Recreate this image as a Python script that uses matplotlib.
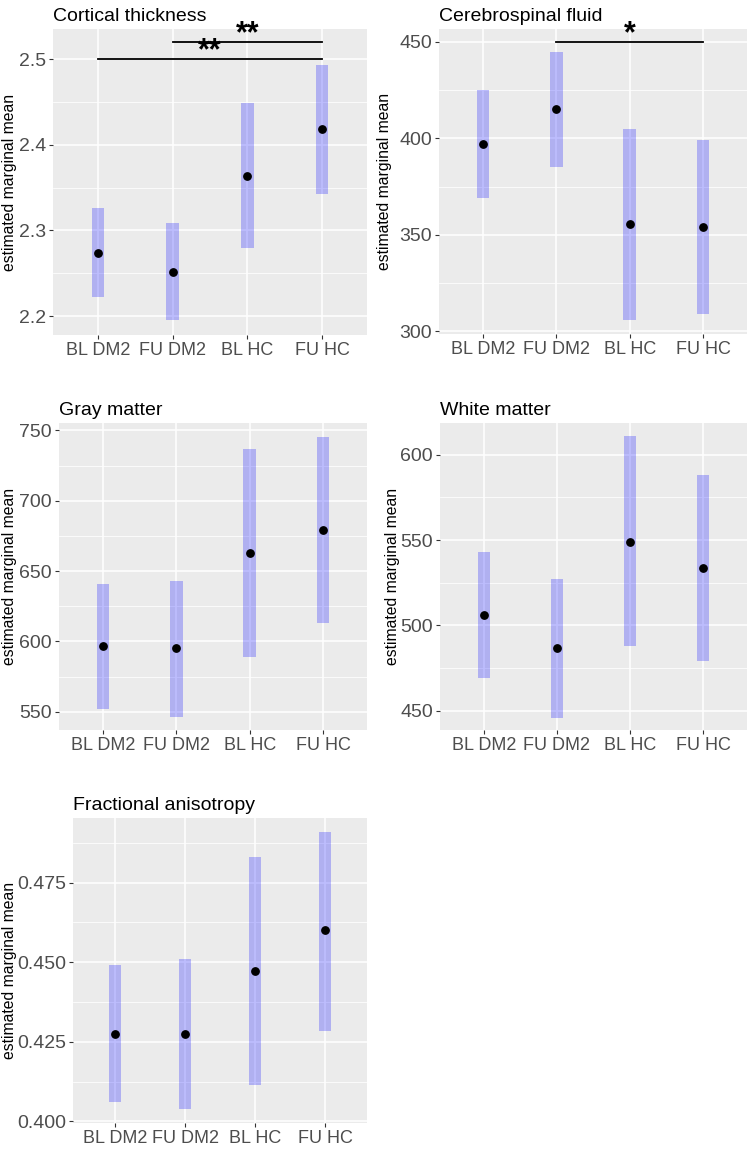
import numpy as np
import matplotlib
matplotlib.use("Agg")
import matplotlib.pyplot as plt
from matplotlib.ticker import MultipleLocator, FormatStrFormatter

plt.rcParams['font.family'] = ['Liberation Sans', 'DejaVu Sans']

groups = ["BL DM2", "FU DM2", "BL HC", "FU HC"]

# estimated marginal means and confidence limits
ct_mean = [2.274, 2.252, 2.364, 2.418]
ct_low = [2.222, 2.195, 2.279, 2.343]
ct_high = [2.326, 2.309, 2.449, 2.493]

csf_mean = [397, 415, 355.5, 354]
csf_low = [369, 385, 306, 309]
csf_high = [425, 445, 405, 399]

gm_mean = [597, 595, 663, 679]
gm_low = [552, 546, 589, 613]
gm_high = [641, 643, 737, 745]

wm_mean = [506, 486.5, 549, 533.5]
wm_low = [469, 446, 488, 479]
wm_high = [543, 527, 611, 588]

fa_mean = [0.4275, 0.4275, 0.4473, 0.4600]
fa_low = [0.406, 0.404, 0.4115, 0.4285]
fa_high = [0.449, 0.451, 0.483, 0.491]

# significance brackets: (from group, to group, y, label)
ct_sig = [(1, 4, 2.500, "**"), (2, 4, 2.520, "**")]
csf_sig = [(2, 4, 450, "*")]

W, H = 749, 1149
fig = plt.figure(figsize=(W / 100, H / 100), dpi=100)


def make_ax(left, top, right, bottom):
    return fig.add_axes([left / W, 1 - bottom / H, (right - left) / W, (bottom - top) / H])


def panel(ax, title, mean, low, high, ylim, major, label_x, sig=(), fmt=None):
    x = np.arange(1, len(groups) + 1)
    ax.set_facecolor("#EBEBEB")
    for s in ax.spines.values():
        s.set_visible(False)
    ax.set_xlim(0.4, 4.6)
    ax.set_ylim(*ylim)
    ax.yaxis.set_major_locator(MultipleLocator(major))
    ax.yaxis.set_minor_locator(MultipleLocator(major / 2))
    ax.grid(which="major", color="white", linewidth=1.1, zorder=0)
    ax.grid(which="minor", axis="y", color="white", linewidth=0.55, zorder=0)
    ax.set_axisbelow(True)
    ax.bar(x, np.array(high) - np.array(low), bottom=low, width=0.17,
           color="blue", alpha=0.25, linewidth=0, zorder=2)
    ax.plot(x, mean, "o", color="black", markersize=5.3, zorder=3)
    ax.set_xticks(x)
    ax.set_xticklabels(groups)
    ax.tick_params(axis="both", which="major", length=3, width=0.8, color="#333333",
                   labelcolor="#4D4D4D", pad=2)
    ax.tick_params(axis="x", labelsize=13)
    ax.tick_params(axis="y", labelsize=14)
    ax.tick_params(axis="y", which="minor", length=0)
    if fmt:
        ax.yaxis.set_major_formatter(fmt)
    ax.set_ylabel("estimated marginal mean", fontsize=11.3, va="center")
    # label centre in pixels, converted to axes fraction
    pos = ax.get_position()
    ax.yaxis.set_label_coords((label_x / W - pos.x0) / pos.width, 0.5)
    ax.set_title(title, loc="left", fontsize=14, pad=6, x=0.0)
    for a, b, y, lab in sig:
        ax.plot([a, b], [y, y], color="black", linewidth=1.3, zorder=4)
        ax.text((a + b) / 2, y, lab, ha="center", va="baseline", fontsize=22,
                fontweight="bold", zorder=5)
    return ax


ax1 = make_ax(53, 29, 367, 335)
panel(ax1, "Cortical thickness", ct_mean, ct_low, ct_high, (2.178, 2.535), 0.1, 10, ct_sig,
      fmt=FormatStrFormatter("%.1f"))

ax2 = make_ax(439, 29, 747, 334)
panel(ax2, "Cerebrospinal fluid", csf_mean, csf_low, csf_high, (298.5, 456.7), 50, 385, csf_sig)

ax3 = make_ax(59, 423, 367, 730)
panel(ax3, "Gray matter", gm_mean, gm_low, gm_high, (537, 755.3), 50, 10)

ax4 = make_ax(440, 423, 747, 730)
panel(ax4, "White matter", wm_mean, wm_low, wm_high, (438.7, 618.6), 50, 392)

ax5 = make_ax(73, 818, 367, 1123)
panel(ax5, "Fractional anisotropy", fa_mean, fa_low, fa_high, (0.3995, 0.4953), 0.025, 10,
      fmt=FormatStrFormatter("%.3f"))

fig.savefig("out.png", dpi=100)
